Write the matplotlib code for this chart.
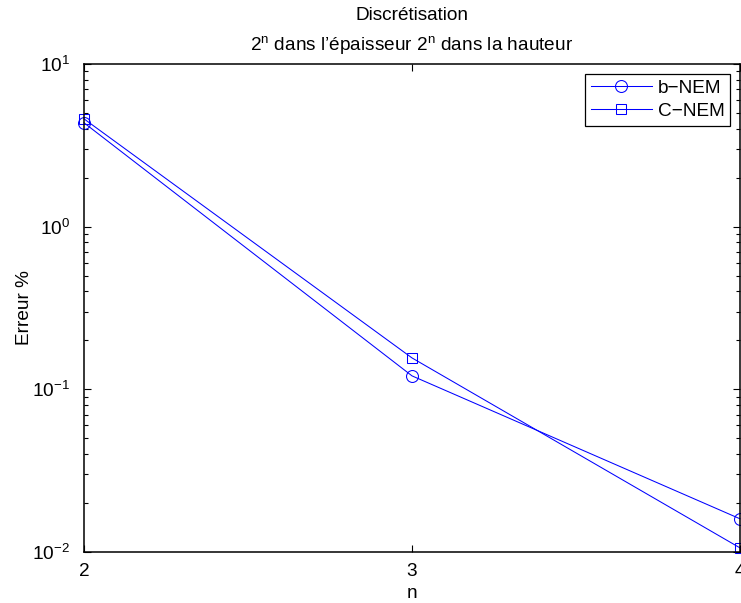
import matplotlib
matplotlib.use("Agg")
import matplotlib.pyplot as plt
from matplotlib.ticker import LogLocator, NullLocator, FixedLocator

# donnees
n = [2, 3, 4]
erreur_bnem = [4.35, 0.121, 0.0160]
erreur_cnem = [4.6, 0.156, 0.0106]
noms = ["b\u2212NEM", "C\u2212NEM"]

plt.rcParams['font.family'] = ['Liberation Sans', 'DejaVu Sans']
plt.rcParams['mathtext.fontset'] = 'custom'
plt.rcParams['mathtext.rm'] = 'Liberation Sans'
plt.rcParams['mathtext.it'] = 'Liberation Sans'
plt.rcParams['mathtext.default'] = 'regular'
FS = 13.7

W, H = 741, 603
fig = plt.figure(figsize=(W / 100, H / 100), dpi=100)
gauche, droite, haut, bas = 84, 740, 64, 552
ax = fig.add_axes([gauche / W, 1 - bas / H, (droite - gauche) / W, (bas - haut) / H])

ax.plot(n, erreur_bnem, color='blue', linewidth=0.75, marker='o', markersize=8.6,
        markerfacecolor='none', markeredgewidth=0.75, clip_on=False, label=noms[0])
ax.plot(n, erreur_cnem, color='blue', linewidth=0.75, marker='s', markersize=7.6,
        markerfacecolor='none', markeredgewidth=0.75, clip_on=False, label=noms[1])

ax.set_yscale('log')
ax.set_ylim(1e-2, 1e1)
ax.set_xlim(2, 4)
ax.xaxis.set_major_locator(FixedLocator([2, 3, 4]))
ax.xaxis.set_minor_locator(NullLocator())
ax.yaxis.set_major_locator(LogLocator(base=10, numticks=10))
ax.yaxis.set_minor_locator(LogLocator(base=10, subs=range(2, 10), numticks=20))

ax.tick_params(which='both', direction='in', top=True, right=True, labelsize=FS, width=0.8)
ax.tick_params(which='major', length=5)
ax.tick_params(which='minor', length=3)
ax.tick_params(axis='x', which='major', pad=8)
ax.tick_params(axis='y', which='major', pad=10)
for s in ax.spines.values():
    s.set_linewidth(1.1)

ax.set_xlabel('n', fontsize=FS)
ax.set_ylabel('Erreur %', fontsize=FS)
ax.xaxis.set_label_coords(0.5, -(585 - bas) / (bas - haut))
ax.yaxis.set_label_coords((33 - gauche) / (droite - gauche), 0.5)

fig.text(0.5 * (gauche + droite) / W, 1 - 20 / H, 'Discrétisation', fontsize=FS,
         ha='center', va='baseline')
fig.text(0.5 * (gauche + droite) / W, 1 - 50 / H,
         '$2^{n}$ dans l\u2019épaisseur $2^{n}$ dans la hauteur', fontsize=FS,
         ha='center', va='baseline')

leg = ax.legend(loc='upper right', bbox_to_anchor=((730 - gauche) / (droite - gauche),
                (bas - 74) / (bas - haut)), borderaxespad=0, fontsize=FS,
                fancybox=False, framealpha=1, edgecolor='black', handlelength=3.2,
                handletextpad=0.3, borderpad=0.3, labelspacing=0.3)
leg.get_frame().set_linewidth(0.9)

fig.savefig('out.png', dpi=100)
